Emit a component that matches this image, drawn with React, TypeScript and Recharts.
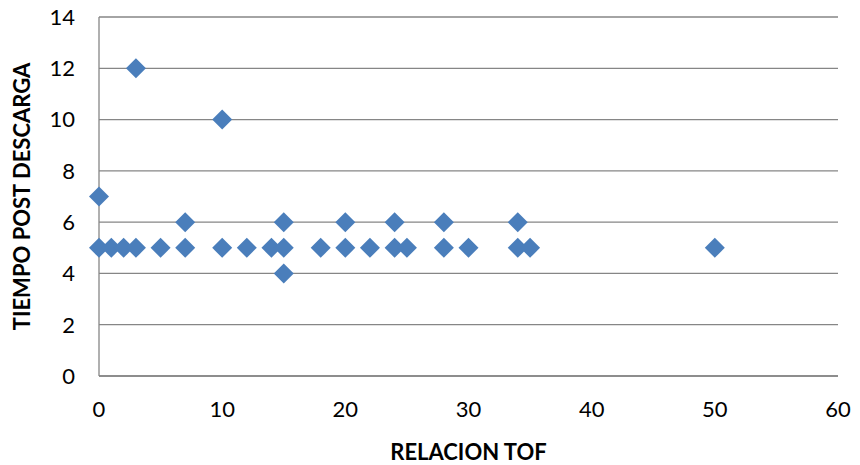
import {
  ScatterChart,
  Scatter,
  XAxis,
  YAxis,
  CartesianGrid,
} from "recharts";

const relacionTof = [0, 0, 1, 2, 3, 3, 5, 7, 7, 10, 10, 12, 14, 15, 15, 15, 18, 20, 20, 22, 24, 24, 25, 28, 28, 30, 34, 34, 35, 50];
const tiempoPost = [5, 7, 5, 5, 5, 12, 5, 5, 6, 5, 10, 5, 5, 5, 6, 4, 5, 5, 6, 5, 5, 6, 5, 5, 6, 5, 5, 6, 5, 5];

const xTicks = [0, 10, 20, 30, 40, 50, 60];
const yTicks = [0, 2, 4, 6, 8, 10, 12, 14];

const points = relacionTof.map((x, i) => ({ x, y: tiempoPost[i] }));

const FONT = "Lato, 'Open Sans', sans-serif";
const GRID = "#868686";
const MARKER = "#4A7EBB";

function Diamond(props: any) {
  const { cx, cy } = props;
  const r = 10;
  return (
    <polygon
      points={`${cx},${cy - r} ${cx + r},${cy} ${cx},${cy + r} ${cx - r},${cy}`}
      fill={MARKER}
    />
  );
}

export default function App() {
  const tick = { fill: "#000", fontSize: 22, fontFamily: FONT };
  const titleStyle = { fill: "#000", fontSize: 22, fontWeight: 700, fontFamily: FONT };
  return (
    <div style={{ position: "absolute", left: 0, top: 0, background: "#fff" }}>
      <ScatterChart
        width={860}
        height={465}
        margin={{ top: 17, right: 22, left: 0, bottom: 0 }}
      >
        <CartesianGrid vertical={false} stroke={GRID} strokeWidth={1.3} />
        <XAxis
          type="number"
          dataKey="x"
          domain={[0, 60]}
          ticks={xTicks}
          height={89}
          tick={tick}
          tickLine={false}
          tickMargin={19}
          axisLine={{ stroke: GRID, strokeWidth: 1.3 }}
          label={{
            value: "RELACION TOF",
            position: "insideBottom",
            offset: 5,
            style: titleStyle,
          }}
        />
        <YAxis
          type="number"
          dataKey="y"
          domain={[0, 14]}
          ticks={yTicks}
          width={99}
          tick={tick}
          tickLine={false}
          tickMargin={18}
          axisLine={{ stroke: GRID, strokeWidth: 1.3 }}
          label={{
            value: "TIEMPO POST DESCARGA",
            angle: -90,
            position: "insideLeft",
            offset: 22,
            style: { ...titleStyle, textAnchor: "middle" },
          }}
        />
        <Scatter data={points} shape={<Diamond />} isAnimationActive={false} />
      </ScatterChart>
    </div>
  );
}
